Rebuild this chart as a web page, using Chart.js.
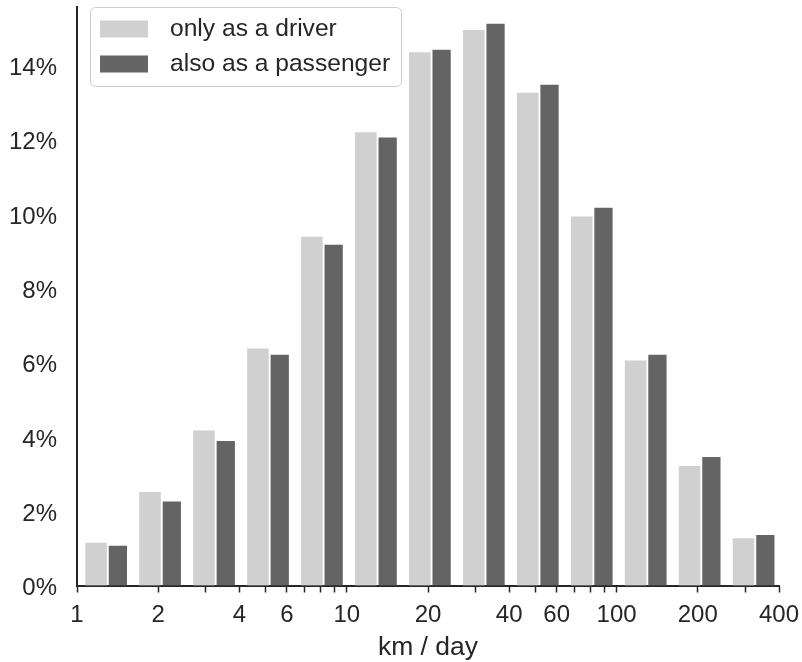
<!DOCTYPE html>
<html>
<head>
<meta charset="utf-8">
<script src="https://cdn.jsdelivr.net/npm/chart.js@4/dist/chart.umd.min.js"></script>
<style>
  body { margin: 0; background: #fff; }
</style>
</head>
<body>
<canvas id="kmChart" width="802" height="662"></canvas>
<script>
// bin edges (km/day), log-spaced
const binEdges = [1, 1.585, 2.512, 3.981, 6.31, 10, 15.85, 25.12, 39.81, 63.1, 100, 158.5, 251.2, 398.1];
const seriesLabels = ['only as a driver', 'also as a passenger'];
const driverOnly = [1.14, 2.51, 4.16, 6.37, 9.38, 12.19, 14.34, 14.94, 13.25, 9.92, 6.05, 3.21, 1.26];
const alsoPassenger = [1.06, 2.25, 3.88, 6.20, 9.16, 12.05, 14.41, 15.11, 13.47, 10.16, 6.20, 3.45, 1.35];
const xTicks = [1, 2, 3, 4, 5, 6, 7, 8, 9, 10, 20, 30, 40, 50, 60, 70, 80, 90, 100, 200, 300, 400];
const xTickLabels = [1, 2, 4, 6, 10, 20, 40, 60, 100, 200, 400];

const textColor = '#262626';
Chart.defaults.font.family = "'Liberation Sans', Arial, sans-serif";
Chart.defaults.font.size = 24;
Chart.defaults.color = textColor;

// bars sit side by side inside each bin; from/to are fractions of the bin width
function barPoints(values, from, to) {
    return values.map(function(v, i) {
        const e0 = binEdges[i];
        const w = binEdges[i + 1] - e0;
        const a = e0 + from * w;
        const b = e0 + to * w;
        return { x: Math.sqrt(a * b), y: v };
    });
}

const legendBox = {
    id: 'legendBox',
    afterDraw(chart) {
        const ctx = chart.ctx;
        ctx.save();
        ctx.beginPath();
        ctx.roundRect(90.5, 7.5, 311, 79, 5);
        ctx.fillStyle = 'rgba(255,255,255,0.8)';
        ctx.fill();
        ctx.strokeStyle = '#cccccc';
        ctx.lineWidth = 1;
        ctx.stroke();
        const rows = [29, 64];
        chart.data.datasets.forEach(function(ds, i) {
            ctx.fillStyle = ds.backgroundColor;
            ctx.fillRect(100, rows[i] - 8.5, 48, 17);
            ctx.fillStyle = textColor;
            ctx.font = "24.6px 'Liberation Sans', Arial, sans-serif";
            ctx.textBaseline = 'middle';
            ctx.textAlign = 'left';
            ctx.fillText(ds.label, 170, rows[i]);
        });
        ctx.restore();
    }
};

const ctx = document.getElementById('kmChart').getContext('2d');
new Chart(ctx, {
    type: 'bar',
    data: {
        datasets: [
            {
                label: seriesLabels[0],
                data: barPoints(driverOnly, 0.13, 0.49),
                backgroundColor: '#d0d0d0',
                barThickness: 20.9,
                grouped: false
            },
            {
                label: seriesLabels[1],
                data: barPoints(alsoPassenger, 0.54, 0.90),
                backgroundColor: '#646464',
                barThickness: 17.6,
                grouped: false
            }
        ]
    },
    options: {
        responsive: false,
        animation: false,
        layout: { padding: { top: 7, right: 23, left: 0, bottom: 0 } },
        plugins: {
            legend: { display: false },
            tooltip: { enabled: false }
        },
        scales: {
            x: {
                type: 'logarithmic',
                min: 1,
                max: 400,
                offset: false,
                grid: {
                    display: true,
                    offset: false,
                    drawOnChartArea: false,
                    drawTicks: true,
                    tickLength: 7,
                    tickWidth: 1.5,
                    tickColor: textColor
                },
                border: { display: true, color: textColor, width: 2 },
                afterBuildTicks: function(scale) {
                    scale.ticks = xTicks.map(v => ({ value: v }));
                },
                afterFit: function(scale) {
                    scale.height = 76.5;
                    scale.paddingLeft = 0;
                    scale.paddingRight = 0;
                },
                ticks: {
                    autoSkip: false,
                    maxRotation: 0,
                    padding: 8,
                    callback: function(value) {
                        return xTickLabels.includes(value) ? String(value) : '';
                    }
                },
                title: {
                    display: true,
                    text: 'km / day',
                    font: { size: 26.5, lineHeight: 1.0 },
                    padding: { top: 0, bottom: 1 }
                }
            },
            y: {
                min: 0,
                max: 15.57,
                grid: { display: false, drawTicks: false },
                border: { display: true, color: textColor, width: 2 },
                afterFit: function(scale) {
                    scale.width = 77;
                    scale.paddingTop = 0;
                    scale.paddingBottom = 0;
                },
                ticks: {
                    stepSize: 2,
                    includeBounds: false,
                    padding: 20,
                    labelOffset: 3,
                    callback: v => v + '%'
                }
            }
        }
    },
    plugins: [legendBox]
});
</script>
</body>
</html>
